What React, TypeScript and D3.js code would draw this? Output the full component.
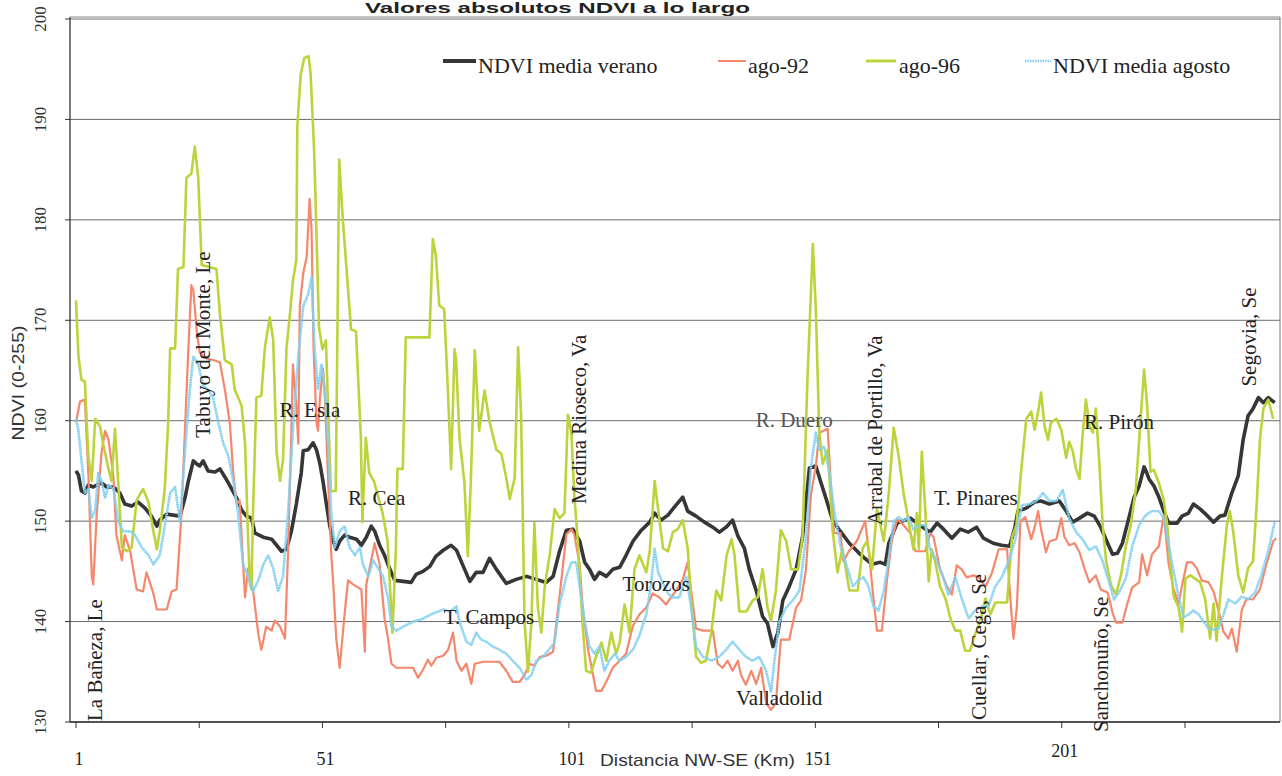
import React from 'react';
import * as d3 from 'd3';

type Pt = [number, number];

// NDVI media verano (black)
const verano: Pt[] = [[1,155],[1.5,154.6],[2.1,153],[2.8,152.8],[3.5,153.6],[4.5,153.4],[6.2,153.8],[7.2,153.4],[8.6,153.4],[9.9,152.8],[10.9,151.7],[12.3,151.5],[13.6,151.9],[15,151.3],[16.3,150.5],[17.4,149.5],[18,150.1],[19.4,150.7],[22.1,150.5],[23.1,152.3],[23.8,154],[24.8,156],[25.5,155.7],[26.1,155.5],[26.8,156],[27.8,155],[29.2,154.9],[30.2,155.2],[31.2,154.4],[31.9,153.8],[33.6,152.3],[34.6,151.1],[35.6,150.5],[36.6,150.3],[37.3,148.8],[39,148.4],[40.7,148.2],[41.7,147.6],[42.7,147],[43.7,147.2],[44.7,149],[45.7,151.7],[46.7,154.8],[47.1,157],[48.1,157.1],[49.1,157.8],[49.8,157.1],[50.5,155.7],[51.1,154],[51.8,151.7],[52.5,149.5],[53.2,148],[53.8,147.2],[54.5,148],[55.5,148.6],[56.5,148.4],[57.9,148.2],[58.9,147.6],[59.9,148.4],[60.9,149.5],[61.6,149],[62.6,147.6],[63.6,146.6],[64.6,145.3],[65.7,144.1],[67.4,144],[69,143.9],[70,144.7],[71.4,145],[72.8,145.5],[74,146.5],[75.5,147.1],[77.1,147.6],[78.2,147.1],[79.5,145.6],[80.9,144],[82.2,144.9],[83.6,144.9],[84.9,146.3],[86.3,145.2],[88.3,143.8],[90.3,144.2],[92.4,144.5],[94.4,144.2],[96.4,143.9],[97.8,144.5],[99.1,147],[100.5,149.1],[101.8,149.2],[103.2,148],[104.2,145.9],[105.2,145.2],[106.2,144.2],[107.2,144.9],[108.6,144.5],[109.9,145.2],[111.3,145.4],[112.6,146.6],[114,148],[115.7,149.1],[117.4,149.9],[118.4,150.8],[119.7,150.1],[121.1,150.6],[122.4,151.4],[124.1,152.4],[125.1,151],[126.8,150.5],[128.5,149.9],[130.2,149.4],[131.5,148.9],[132.9,149.4],[134.2,150.1],[135.3,148.5],[136.6,147.3],[137.6,145.2],[139,143.1],[140.3,140.5],[141.3,139.8],[142.4,137.5],[143.4,138.9],[144.4,142.1],[145.7,143.5],[147.1,145.2],[148.4,148.4],[149.8,155.3],[151.1,155.5],[152.1,153.9],[153.2,152.2],[154.5,150.1],[155.9,149.1],[157.9,147.8],[159.9,146.8],[161.3,146.2],[162.5,145.7],[164.2,145.9],[165.2,145.7],[165.9,147.8],[167.6,149.8],[170.3,150.3],[171.6,149.8],[174.3,148.9],[175.7,149.8],[177,149.2],[178.7,148.3],[180.4,149.2],[182,148.9],[183.7,149.4],[185.1,148.3],[187.1,147.8],[188.8,147.6],[190.4,147.5],[191.5,149.4],[192.1,151],[193.8,151.3],[195.5,151.9],[196.8,152],[198.5,151.7],[200.5,152],[201.9,151],[203.2,149.9],[204.6,150.3],[206.2,150.8],[207.6,150.5],[208.9,149.4],[210.3,147.8],[211.3,146.7],[212.3,146.8],[213.3,147.8],[214.6,150.3],[215.7,152.4],[216.7,153.5],[217.7,155.4],[218,155.1],[218.7,154.2],[219.7,153.5],[220.7,152.4],[221.7,151],[222.7,149.8],[224.4,149.8],[225.4,150.5],[226.7,150.8],[227.7,151.7],[229.1,151.2],[230.4,150.6],[231.8,149.9],[233.1,150.5],[234.1,150.6],[235.5,152.8],[236.8,154.5],[237.8,158.1],[238.8,160.5],[239.8,161.2],[240.9,162.3],[241.9,161.8],[242.9,162.3],[244.2,161.8]];

// ago-92 (orange)
const ago92: Pt[] = [[1,159.8],[1.8,161.9],[2.8,162.1],[3.5,154.8],[4.2,144.5],[4.5,143.7],[5.2,150.7],[6.2,156.9],[6.9,159],[7.6,158.1],[8.6,154.4],[9.2,148.6],[10.3,146.1],[10.9,148.6],[12,147],[13.3,143.2],[14.6,143],[15.3,144.9],[16.7,142.8],[17.4,141.2],[19.4,141.2],[20.4,143],[21.4,143.2],[22.4,150.7],[23.1,159],[23.8,167.2],[24.4,173.5],[24.8,173],[25.5,168.9],[26.1,166.8],[27.5,166.2],[29.2,166],[30.2,165.8],[31.2,163.1],[32.2,159.8],[32.9,154.8],[33.6,151.7],[34.2,152.1],[34.9,145.7],[35.3,142.4],[35.9,145.3],[36.9,143.2],[38,138.7],[38.6,137.2],[39.6,139.5],[40.7,139.1],[41.3,140.1],[42.4,139.5],[43.4,138.3],[44,146.6],[44.7,159],[45,165.6],[45.7,161.5],[46.1,157.7],[46.4,171.4],[47.1,174.7],[47.8,176.3],[48.4,182.1],[48.8,178.8],[49.2,167.2],[49.8,159.8],[50.1,159],[50.5,162.3],[51.1,165.2],[51.5,162.3],[52.1,154.8],[52.8,146.6],[53.2,143.7],[53.8,138.3],[54.5,135.4],[55.5,140.8],[56.2,144.1],[57.2,143.7],[58.9,143.2],[59.6,137],[59.9,143.7],[60.9,146.1],[61.6,147.8],[62.6,145.7],[63.6,140.3],[64.3,138.3],[65,135.8],[66,135.4],[69.4,135.4],[70.4,134.4],[71.4,135.2],[72.4,136.2],[73.1,135.6],[74.1,136.4],[75.5,136.6],[76.5,137.2],[77.5,138.9],[78.2,136.1],[79.2,135.1],[80.2,135.8],[81.2,133.8],[81.9,135.8],[83.6,136],[86.9,136],[88.3,135.1],[89.6,134],[91,134],[92,134.7],[93,135.8],[94,135.6],[95.1,136.5],[96.4,136.6],[97.8,137],[98.4,139.6],[99.4,143.8],[100.5,148.7],[101.5,149.2],[102.1,148.7],[103.2,145.6],[103.8,141.4],[104.9,137.2],[105.9,134.7],[106.5,133.1],[107.6,133.1],[108.6,134],[109.9,135.4],[111.3,136.1],[112.6,136.8],[114,139.6],[115.3,140.7],[116.7,141.4],[118,142.8],[119.4,142.4],[120.7,141.7],[121.7,142.4],[122.8,143.1],[124.1,144.2],[125.1,145.9],[125.8,143.1],[126.8,139.3],[128.2,139.1],[130.2,139.1],[131.2,135.8],[132.2,135.4],[133.2,136.1],[134.2,135.1],[135.3,136.1],[135.9,134.7],[136.9,133.7],[138,135.1],[139,133.8],[140,135.4],[141,131.9],[142,131.2],[143,131.9],[144,138.2],[145.7,138.2],[147.1,141.4],[148.1,142.1],[149.1,145.2],[150.1,152.6],[151.1,155.5],[151.8,158.8],[153.5,159.2],[154.2,153.2],[154.8,148.8],[156.1,148.8],[156.7,146],[157.8,147],[159.4,148],[161.1,150],[161.8,147.2],[162.8,142.3],[163.5,139.1],[164.5,139.1],[165.5,144],[166.5,148],[167.6,150.2],[168.9,149.6],[170.3,148.8],[171.3,147],[173.3,147],[174.3,148.8],[175,148.4],[176.3,145.2],[177.7,143.5],[178.7,142.7],[179.7,145.6],[180.7,145.2],[181.7,144.4],[183.1,144.6],[184.1,144.4],[185.5,143.5],[186.8,144.8],[188.2,147.2],[189.9,147.2],[190.5,142.7],[191.2,138.3],[191.9,141.5],[192.6,150],[193.6,150.4],[194.8,148.2],[195.5,149.4],[196.2,151],[196.8,149.2],[197.8,146.9],[198.5,148],[199.9,148.2],[200.9,150.3],[201.5,148.5],[202.5,147.6],[203.6,147.8],[204.6,146.9],[205.6,145.3],[206.6,143.9],[207.9,144.6],[208.9,143.2],[210.3,142.9],[211.3,140.9],[212,139.9],[213.3,139.9],[214.3,141.8],[215.3,143.4],[216.7,143.9],[217.3,146.7],[218.3,144.6],[219.3,146.7],[220.7,147.5],[221.7,150.6],[222.7,145.7],[223.7,143.2],[224.7,141.8],[225.4,143.6],[226.4,145.9],[227.4,145.9],[228.4,145.3],[229.4,144.1],[230.8,143.9],[231.8,143],[232.8,141.1],[233.8,139],[234.8,138.3],[235.5,139.3],[236.5,137],[237.5,141.1],[238.5,142.3],[239.8,142.2],[241.2,143.2],[242.5,145.7],[243.9,148],[244.5,148.3]];

// ago-96 (green)
const ago96: Pt[] = [[1,172],[1.5,166.4],[2.1,164.1],[2.8,163.9],[3.5,156.5],[4.2,154],[4.9,160.2],[5.9,159.4],[6.5,157.7],[7.6,155.2],[8.2,154],[8.9,159.2],[9.6,153.6],[10.3,147.4],[11.3,147],[12.3,147.4],[13.3,152.1],[14.6,153.2],[15.7,151.9],[16.7,149],[17.4,147.2],[18,149],[19,153.2],[19.7,159.8],[20.1,167.2],[21.1,167.2],[21.7,175.1],[22.8,175.3],[23.4,184.2],[24.4,184.6],[25.1,187.3],[25.8,184.2],[26.5,175.5],[29.5,175.1],[30.2,170.6],[31.2,166],[32.6,165.6],[33.2,163.1],[34.6,161.5],[35.3,157.7],[35.9,148.6],[36.3,143.7],[36.6,143.2],[36.9,150.7],[37.6,162.3],[38.6,162.5],[39.3,167.2],[40.3,170.3],[41,168.1],[41.7,156.9],[42.4,154],[43,156.1],[43.7,167.2],[44.4,170.6],[45,173.9],[45.7,176],[45.9,189.3],[46.6,194.5],[47.3,196.1],[48.2,196.3],[48.6,194.5],[49.3,187],[49.6,182],[50.3,169.3],[51,167.1],[51.7,168],[52.7,153],[53.7,153],[54.4,186],[55.1,180.3],[56.1,173.7],[56.8,169.1],[57.8,168.9],[58.8,158.3],[59.1,149.9],[59.8,158.3],[60.5,154.8],[61.5,153.9],[63.2,150.8],[64.2,148.1],[65.2,138.9],[65.9,147.3],[66.2,155.2],[67.3,155.2],[67.9,168.3],[72.7,168.3],[73.4,178.1],[74,176.5],[74.7,171.5],[75.7,171.1],[76.4,163.6],[77.1,155.2],[77.8,167.1],[78.1,166.2],[78.8,158.3],[79.8,153.9],[80.5,146.5],[81.1,153.9],[81.9,167],[82.8,159],[83.9,163],[84.9,159.9],[86.3,157.1],[87.3,156.7],[88.3,154.3],[89,152.2],[90,154.3],[90.7,167.3],[91.3,160.6],[92,140],[92.7,135],[93.4,140],[94,149.8],[94.7,141.4],[95.4,138.9],[96.1,143.5],[97.1,146.6],[98.1,151.2],[99.1,150.3],[100.1,150.8],[100.8,160.6],[101.5,158.8],[102.1,152.6],[102.8,148],[103.8,139.6],[104.5,135.1],[105.5,134.9],[106.5,136.5],[107.6,137.9],[108.6,136.1],[109.6,138.9],[110.6,136.8],[111.3,137.9],[112.3,141.7],[113.3,138.9],[114.3,145.2],[115.3,146.6],[116.7,144.9],[117.4,147],[118.4,154],[119.1,151.2],[120.1,147.3],[121.1,147],[122.1,148.9],[123.1,149.2],[124.1,150.1],[125.1,147.3],[125.8,142.1],[126.8,136.5],[127.8,135.9],[128.8,136.1],[129.9,138.9],[130.9,143.1],[131.9,142.1],[133,146.6],[134,148.2],[134.6,146.6],[135.6,141],[137,141],[138.3,142.1],[139.3,142.4],[140.3,145.2],[141.3,141.4],[142,140.1],[143,143.1],[144,149.1],[145.1,148],[146.1,145.2],[147.5,145.2],[148.4,148.4],[149.4,164.1],[150.5,177.6],[151.1,171.1],[151.8,158.8],[152.5,155.7],[153.5,157.1],[154.5,149.1],[155.5,144.9],[156.5,147.3],[157.9,143.1],[159.6,143.1],[160.6,147.3],[161.5,148],[162.5,145.2],[163.5,151.2],[164.9,148],[165.9,152.8],[166.9,159.3],[167.9,156.5],[168.9,152.8],[169.9,150],[170.9,147.2],[171.6,150.8],[172,147.2],[172.6,156.9],[173.3,151.2],[174,144],[174.6,147.2],[175.3,146],[176.3,143.5],[177.4,142.3],[178.4,140.3],[179.4,139.1],[180.4,139.1],[181.4,137.1],[182.4,137.1],[183.4,138.7],[184.4,139.9],[185.5,142.3],[186.5,140.7],[187.5,141.9],[189.9,141.9],[190.9,148.4],[191.8,149.6],[192.8,155.2],[193.8,160.2],[194.8,160.9],[195.5,159.1],[196.2,160.9],[196.8,162.8],[197.5,159.5],[198.2,158.1],[198.8,159.8],[199.9,160.2],[200.9,159.1],[201.9,156.3],[202.5,157.9],[203.2,157],[203.9,155.2],[204.6,154.2],[205.2,158.4],[205.9,162.1],[206.6,159.5],[207.3,158.8],[207.9,161.2],[208.6,155.9],[209.3,149.6],[210,146],[211,143.6],[212,142.7],[213,144.6],[214,147.5],[215,149.6],[216,153.1],[217,160.2],[217.7,165.1],[218.3,161.6],[219,154.9],[219.7,155.1],[220.7,153.8],[221.7,152.1],[222.4,149.6],[223,146],[223.7,142.5],[224.7,141.4],[225.4,139],[226.1,144.3],[227.1,144.6],[229.1,143.9],[230.1,142.2],[231.1,138.3],[231.8,141.8],[232.4,138.1],[233.5,144.6],[234.5,149.6],[235.1,151],[235.8,148.9],[236.8,144.6],[237.8,142.9],[238.8,145.3],[239.8,146],[240.5,151.3],[241.2,158.1],[241.9,161.2],[242.9,162.1],[243.9,160.2]];

// NDVI media agosto (light blue)
const mediaAgosto: Pt[] = [[1,160.2],[1.5,159],[2.1,156.1],[2.8,152.8],[3.5,153.2],[4.2,150.3],[4.9,151.1],[5.5,154.8],[6.2,154],[6.9,152.3],[7.6,153.6],[8.6,153.2],[9.6,149.9],[10.6,149],[12,149],[13,148.6],[14.3,147.4],[15.7,146.6],[16.7,145.7],[18,146.6],[19,149.5],[20.1,152.8],[21.1,153.4],[22.1,149.9],[23.1,156.9],[24.1,163.1],[24.8,166.4],[25.8,165.6],[26.8,163.5],[27.8,163.1],[28.8,162.3],[29.9,159.8],[30.9,157.7],[31.9,156.5],[32.9,154],[33.9,150.7],[34.9,145.7],[35.9,144.5],[36.9,143],[38,144.1],[39,145.7],[40,146.6],[41,145.3],[42,143],[43,144.5],[44,150.7],[45.1,159.8],[46.1,166.4],[47.1,171.4],[48.1,172.6],[48.8,174.3],[49.4,167.2],[50.1,163.1],[50.8,165.6],[51.5,163.1],[52.1,158.1],[52.8,150.7],[53.5,147.4],[54.5,149],[55.5,149.5],[56.5,147.4],[57.6,146.6],[58.6,147.4],[59.2,145.7],[60.3,144.5],[61.3,146.1],[62.3,145.3],[63.3,144.5],[64.3,142.4],[65,139.5],[66,139.1],[67.4,139.5],[69.4,140],[71.4,140.3],[73.4,140.8],[75.5,141.2],[76.8,141],[78.2,141.5],[78.8,140],[80.2,138],[81.2,137.7],[82.2,138.9],[83.2,138.2],[84.2,138],[85.6,137.5],[86.9,137.2],[88.3,136.8],[89.6,136.1],[91,135.4],[92.4,134.2],[93.4,134.7],[94.4,136.1],[95.7,136.5],[97.1,137.3],[98.1,137.9],[99.1,141.7],[100.5,144.5],[101.5,145.9],[102.5,145.9],[103.5,142.4],[104.2,140],[105.2,137.5],[106.2,136.8],[107.2,137.5],[108.2,135.1],[109.2,136.1],[110.3,136.8],[111.3,136.1],[112.6,136.5],[114,137.2],[115.3,138.6],[116.7,140.7],[117.7,143.8],[118.4,147.3],[119.1,144.9],[120.1,143.8],[121.1,142.8],[122.1,142.4],[123.4,142.4],[124.8,144.5],[125.8,141.4],[126.8,137.5],[128.2,136.5],[129.9,136.1],[131.5,136.5],[132.9,137.2],[134.2,138],[135.6,137.2],[136.9,136.5],[138.3,136.1],[139.6,136.5],[141,135.1],[142,133],[142.7,136.1],[143.7,140],[145.1,141.4],[146.4,142.1],[147.8,143.1],[149.1,148.4],[150.1,155.3],[151.1,158.8],[151.8,157.1],[152.8,157.4],[153.8,155],[154.9,150.8],[156.2,147.3],[157.6,145.2],[158.6,143.5],[159.9,144.2],[160.8,144.4],[161.8,143.5],[162.8,141.5],[163.8,141.1],[164.9,143.1],[165.9,146.4],[166.9,150],[167.9,150.4],[168.9,150],[169.9,150.4],[170.9,149.2],[172.3,149.6],[173.3,149.6],[174.3,147.2],[175.3,146.4],[176.7,144.8],[178,142.7],[179.4,144.4],[180.7,142.3],[182.1,140.3],[183.4,141.1],[184.8,141.5],[186.1,141.5],[187.5,143.5],[188.8,144.4],[190.2,146],[191.5,148],[192.9,151.6],[194.5,151.7],[195.8,152],[197.2,152.8],[198.5,152],[199.9,152],[201.2,153.1],[202.5,150.3],[203.9,148.9],[205.2,148.2],[206.6,147.1],[207.9,147.5],[209.3,146],[210.6,143.9],[211.6,142.2],[212.6,142.9],[214,144.3],[215.3,147.5],[216.7,149.6],[218,150.6],[219.3,151],[220.7,151],[221.7,150.3],[222.7,147.5],[223.7,145],[224.7,142.5],[225.7,140.4],[226.7,140.7],[227.7,141.1],[228.8,140.7],[229.8,140],[230.8,139.3],[231.8,139.2],[232.8,139.3],[233.8,140.7],[234.8,142.2],[236.2,141.8],[237.5,142.5],[238.8,142.2],[240.2,142.9],[241.5,144.6],[242.9,147.1],[244.2,149.9]];

const yTicks = [130, 140, 150, 160, 170, 180, 190, 200];
const xTickMarks = [1, 26, 51, 76, 101, 126, 151, 176, 201, 226];
const xTickLabels = ['1', '51', '101', '151', '201'];

// Place-name annotations anchored in data coordinates [km, NDVI]
const horizLabels: { text: string; km: number; v: number; gray?: boolean }[] = [
  { text: 'R. Esla', km: 42.3, v: 160.4 },
  { text: 'R. Cea', km: 56.2, v: 151.6 },
  { text: 'T. Campos', km: 75.6, v: 139.8 },
  { text: 'Torozos', km: 111.9, v: 143.0 },
  { text: 'Valladolid', km: 134.9, v: 131.7 },
  { text: 'R. Duero', km: 138.9, v: 159.4, gray: true },
  { text: 'T. Pinares', km: 175.1, v: 151.6 },
  { text: 'R. Pirón', km: 205.5, v: 159.2 },
];
const vertLabels: { text: string; km: number; v: number }[] = [
  { text: 'La Bañeza, Le', km: 6.3, v: 130.1 },
  { text: 'Tabuyo del Monte, Le', km: 28.2, v: 158.3 },
  { text: 'Medina Rioseco, Va', km: 104.4, v: 151.7 },
  { text: 'Arrabal de Portillo, Va', km: 164.5, v: 149.6 },
  { text: 'Cuellar, Cega, Se', km: 185.7, v: 130.2 },
  { text: 'Sanchonuño, Se', km: 210.4, v: 129.0 },
  { text: 'Segovia, Se', km: 240.4, v: 163.4 },
];

const SERIF = '"Liberation Serif", "Times New Roman", Times, serif';
const SANS = '"Liberation Sans", Arial, Helvetica, sans-serif';

const COL_BLACK = '#363636';
const COL_ORANGE = '#f4876c';
const COL_GREEN = '#bed23c';
const COL_BLUE = '#82d0f0';

export default function App() {
  const W = 1282, H = 776;
  const left = 70, right = 1280;
  const x = d3.scaleLinear().domain([1, 226]).range([76, 1185]);
  const y = d3.scaleLinear().domain([130, 200]).range([722, 19]);
  const line = d3.line<Pt>().x(d => x(d[0])).y(d => y(d[1])).curve(d3.curveLinear);
  const bottom = y(130);
  const top = y(200);

  return (
    <svg width={W} height={H} viewBox={`0 0 ${W} ${H}`}
      style={{ position: 'absolute', left: 0, top: 0, background: '#fff' }}>
      <rect x={0} y={0} width={W} height={H} fill="#fff" />
      {/* title */}
      <text x={365} y={13} fontFamily={SANS} fontWeight="bold" fontSize={15} fill="#222"
        textLength={385} lengthAdjust="spacingAndGlyphs">
        Valores absolutos NDVI a lo largo
      </text>

      {/* gridlines */}
      {yTicks.map(t => (
        <line key={'g' + t} x1={left} x2={right} y1={y(t)} y2={y(t)} stroke="#6a6a6a" strokeWidth={1} />
      ))}
      {/* frame */}
      <line x1={left} x2={left} y1={top - 2} y2={bottom} stroke="#333" strokeWidth={1.3} />
      <line x1={right} x2={right} y1={top - 2} y2={bottom} stroke="#777" strokeWidth={1} />
      <line x1={left} x2={right} y1={bottom} y2={bottom} stroke="#333" strokeWidth={1.3} />
      <line x1={left} x2={right} y1={top - 2} y2={top - 2} stroke="#888" strokeWidth={1} />

      {/* y ticks */}
      {yTicks.map(t => (
        <g key={'yt' + t}>
          <line x1={left - 5} x2={left} y1={y(t)} y2={y(t)} stroke="#333" strokeWidth={1} />
          <text transform={`translate(46,${y(t)}) rotate(-90)`} textAnchor="middle"
            fontFamily={SERIF} fontSize={17} fill="#333">{t}</text>
        </g>
      ))}
      <text transform="translate(24,383) rotate(-90)" textAnchor="middle" fontFamily={SANS}
        fontSize={16} fill="#333" textLength={115} lengthAdjust="spacingAndGlyphs">NDVI (0-255)</text>

      {/* x ticks */}
      {xTickMarks.map(t => (
        <line key={'xt' + t} x1={x(t)} x2={x(t)} y1={bottom} y2={bottom + 6} stroke="#333" strokeWidth={1} />
      ))}
      {xTickLabels.map((t, i) => (
        <text key={'xl' + t} x={x(+t) + 3} y={i === 4 ? 757 : 765} textAnchor="middle"
          fontFamily={SERIF} fontSize={18} fill="#222">{t}</text>
      ))}
      <text x={600} y={766} fontFamily={SANS} fontSize={17} fill="#333"
        textLength={195} lengthAdjust="spacingAndGlyphs">Distancia NW-SE (Km)</text>

      {/* series */}
      <path d={line(verano) || ''} fill="none" stroke={COL_BLACK} strokeWidth={3.6} strokeLinejoin="round" />
      <path d={line(ago92) || ''} fill="none" stroke={COL_ORANGE} strokeWidth={2.2} strokeLinejoin="round" />
      <path d={line(ago96) || ''} fill="none" stroke={COL_GREEN} strokeWidth={2.6} strokeLinejoin="round" />
      <path d={line(mediaAgosto) || ''} fill="none" stroke={COL_BLUE} strokeOpacity={0.55} strokeWidth={2.4} strokeLinejoin="round" />
      <path d={line(mediaAgosto) || ''} fill="none" stroke={COL_BLUE} strokeWidth={2.4} strokeDasharray="1.5 1" strokeLinejoin="round" />

      {/* annotations */}
      {horizLabels.map(l => (
        <text key={l.text} x={x(l.km)} y={y(l.v)} fontFamily={SERIF} fontSize={21}
          fill={l.gray ? '#555' : '#222'}>{l.text}</text>
      ))}
      {vertLabels.map(l => (
        <text key={l.text} transform={`translate(${x(l.km)},${y(l.v)}) rotate(-90)`}
          fontFamily={SERIF} fontSize={21} fill="#222">{l.text}</text>
      ))}

      {/* legend */}
      <line x1={443} x2={476} y1={61} y2={61} stroke={COL_BLACK} strokeWidth={4} />
      <text x={478} y={73} fontFamily={SERIF} fontSize={22} fill="#222">NDVI media verano</text>
      <line x1={718} x2={746} y1={61} y2={61} stroke={COL_ORANGE} strokeWidth={2} />
      <text x={748} y={73} fontFamily={SERIF} fontSize={22} fill="#222">ago-92</text>
      <line x1={866} x2={896} y1={61} y2={61} stroke={COL_GREEN} strokeWidth={3} />
      <text x={899} y={73} fontFamily={SERIF} fontSize={22} fill="#222">ago-96</text>
      <line x1={1025} x2={1051} y1={61} y2={61} stroke={COL_BLUE} strokeWidth={2.4} strokeDasharray="1.5 1" />
      <text x={1053} y={73} fontFamily={SERIF} fontSize={22} fill="#222">NDVI media agosto</text>
    </svg>
  );
}
